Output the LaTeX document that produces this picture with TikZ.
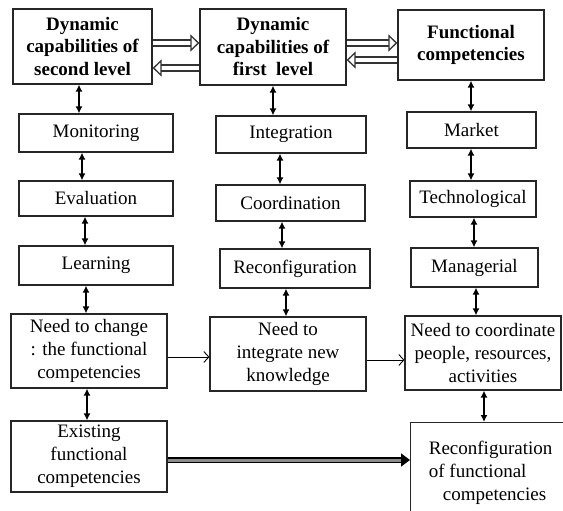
\documentclass[tikz,border=0pt]{standalone}
\usepackage{fontspec}
\setmainfont{Liberation Serif}
\usetikzlibrary{arrows.meta}

\tikzset{
  box/.style={draw=black!85, line width=1.2pt, align=center, inner sep=1pt,
    font=\fontsize{19}{23}\selectfont},
  headbox/.style={box, font=\fontsize{19}{22.5}\selectfont\bfseries},
  link/.style={line width=1.6pt, {Latex[length=7pt,width=7pt]}-{Latex[length=7pt,width=7pt]}},
  flow/.style={line width=0.9pt, -{Straight Barb[length=5pt,width=11pt]}},
  feed/.style={draw=black!80, double, double distance=4.5pt, line width=1.3pt,
    -{Triangle[open, length=9pt, width=17pt, line width=1.3pt]}},
  transfer/.style={draw=black, double=black!45, double distance=3pt, line width=1.6pt,
    -{Triangle[length=9pt, width=13pt]}},
}

\begin{document}
\begin{tikzpicture}[x=1pt, y=-1pt]

\useasboundingbox (0,0) rectangle (563,511);
\clip (0,0) rectangle (563,511);

\node[headbox, minimum width=139pt, minimum height=75pt] (SecondLevel) at (82.5,46.5)
  {Dynamic\\capabilities of\\second level};
\node[headbox, minimum width=146pt, minimum height=76pt] (FirstLevel) at (273,47)
  {Dynamic\\capabilities of\\first\ \ level};
\node[headbox, minimum width=146pt, minimum height=70pt] (Functional) at (471,45)
  {Functional\\competencies};

\node[box, minimum width=154pt, minimum height=38pt] (Monitoring) at (96,133) {Monitoring};
\node[box, minimum width=154pt, minimum height=35pt] (Evaluation) at (96,198.5) {Evaluation};
\node[box, minimum width=154pt, minimum height=39pt] (Learning) at (96,265.5) {Learning};
\node[box, minimum width=156pt, minimum height=74pt] (NeedChange) at (89,351)
  {Need to change\\: the functional\\competencies};
\node[box, minimum width=156pt, minimum height=71pt] (Existing) at (89,456.5)
  {Existing\\functional\\competencies};

\node[box, minimum width=150pt, minimum height=37pt] (Integration) at (291,134.5) {Integration};
\node[box, minimum width=149pt, minimum height=36pt] (Coordination) at (290.5,203) {Coordination};
\node[box, minimum width=150pt, minimum height=39pt] (Reconfiguration) at (295,268.5) {Reconfiguration};
\node[box, minimum width=156pt, minimum height=74pt] (NeedIntegrate) at (288,354)
  {Need to\\integrate new\\knowledge};

\node[box, minimum width=129pt, minimum height=36pt] (Market) at (471.5,130) {Market};
\node[box, minimum width=126pt, minimum height=36pt] (Technological) at (473,199) {Technological};
\node[box, minimum width=127pt, minimum height=39pt] (Managerial) at (474.5,267.5) {Managerial};
\node[box, minimum width=156pt, minimum height=74pt] (NeedCoordinate) at (483,353)
  {Need to coordinate\\people, resources,\\activities};
\node[box, align=left, anchor=north west, minimum width=160pt, minimum height=100pt] (ReconfFunctional) at (410,422)
  {Reconfiguration\\of functional\\\hspace{14pt}competencies};

\draw[feed] (SecondLevel.east |- 0,43) -- (FirstLevel.west |- 0,43);
\draw[feed] (FirstLevel.west |- 0,68) -- (SecondLevel.east |- 0,68);
\draw[feed] (FirstLevel.east |- 0,43) -- (Functional.west |- 0,43);
\draw[feed] (Functional.west |- 0,60) -- (FirstLevel.east |- 0,60);

\draw[link] (SecondLevel.south -| 79,0) -- (Monitoring.north -| 79,0);
\draw[link] (Monitoring.south -| 82,0) -- (Evaluation.north -| 82,0);
\draw[link] (Evaluation.south -| 85,0) -- (Learning.north -| 85,0);
\draw[link] (Learning.south -| 86,0) -- (NeedChange.north -| 86,0);
\draw[link] (NeedChange.south -| 87,0) -- (Existing.north -| 87,0);

\draw[link] (FirstLevel.south -| 273,0) -- (Integration.north -| 273,0);
\draw[link] (Integration.south -| 280,0) -- (Coordination.north -| 280,0);
\draw[link] (Coordination.south -| 282,0) -- (Reconfiguration.north -| 282,0);
\draw[link] (Reconfiguration.south -| 286,0) -- (NeedIntegrate.north -| 286,0);

\draw[link] (Functional.south -| 471,0) -- (Market.north -| 471,0);
\draw[link] (Market.south -| 471,0) -- (Technological.north -| 471,0);
\draw[link] (Technological.south -| 474,0) -- (Managerial.north -| 474,0);
\draw[link] (Managerial.south -| 476,0) -- (NeedCoordinate.north -| 476,0);
\draw[link] (NeedCoordinate.south -| 484,0) -- (ReconfFunctional.north -| 484,0);

\draw[flow] (NeedChange.east |- 0,357) -- (NeedIntegrate.west |- 0,357);
\draw[flow] (NeedIntegrate.east |- 0,360) -- (NeedCoordinate.west |- 0,360);
\draw[transfer] (Existing.east |- 0,460) -- (ReconfFunctional.west |- 0,460);

\end{tikzpicture}
\end{document}
